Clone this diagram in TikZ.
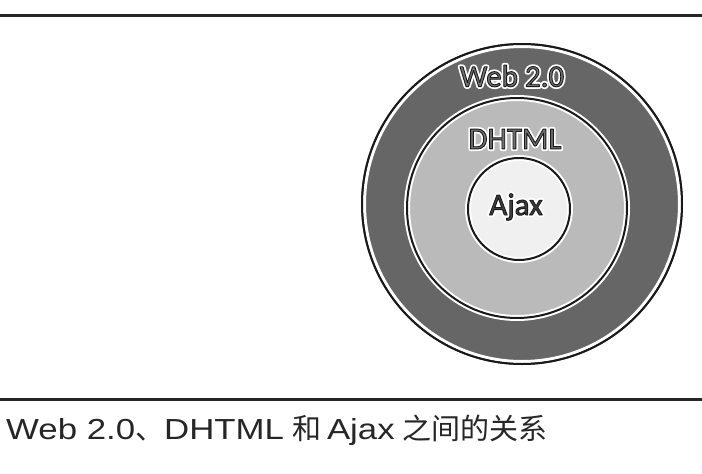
\documentclass[tikz,border=0pt]{standalone}
\usepackage{fontspec}
\setmainfont{Liberation Sans}[FakeStretch=1.2]
\newfontfamily\cjk{Noto Sans CJK SC}
\newfontfamily\lblfont{Carlito}
\newcommand\halo[1]{\rlap{\special{pdf:code q 1 Tr 4.5 w 1 1 1 RG 1 j}#1\special{pdf:code Q}}%
  \special{pdf:code q 2 Tr 0.9 w 0.1 0.1 0.1 RG 1 j}#1\special{pdf:code Q}}
\tikzset{
  rulerline/.style={line width=3pt, draw=black!85},
  ringline/.style={line width=2pt, draw=black!90},
  ringhalo/.style={line width=6pt, draw=white},
  lbl/.style={font=\lblfont\fontsize{31}{31}\selectfont, text=black!55, inner sep=0pt},
  captext/.style={font=\fontsize{29}{29}\selectfont, text=black!85, inner sep=0pt, anchor=base west},
}
\begin{document}
\begin{tikzpicture}[x=1pt, y=-1pt]
\useasboundingbox (0,0) rectangle (702,474);
\fill[white] (0,0) rectangle (702,474);
% rules
\coordinate (tl) at (0,15);
\coordinate (tr) at (702,15);
\coordinate (bl) at (0,399);
\coordinate (br) at (702,399);
\draw[rulerline] (tl) -- (tr);
\draw[rulerline] (bl) -- (br);
% circles
\fill[black!60] (522,204) circle (161);
\draw[line width=3pt, white] (522,204) circle (157.5);
\draw[ringline] (522,204) circle (160);
\fill[black!27] (517,208) circle (110);
\draw[ringhalo] (517,208) circle (110);
\draw[ringline] (517,208) circle (110);
\fill[black!6] (519,209) circle (51);
\draw[ringhalo] (519,209) circle (51);
\draw[ringline] (519,209) circle (51);
% labels
\node[lbl] (web) at (512,76) {\halo{Web 2.0}};
\node[lbl] (dhtml) at (515,139) {\halo{DHTML}};
\node[lbl, text=black!75] (ajax) at (516,207) {\halo{Ajax}};
% caption
\node[captext] (caption) at (6,439) {Web 2.0{\cjk 、}DHTML\hspace{8pt}{\cjk 和}\hspace{6pt}Ajax\hspace{8pt}{\cjk 之间的关系}};
\end{tikzpicture}
\end{document}
